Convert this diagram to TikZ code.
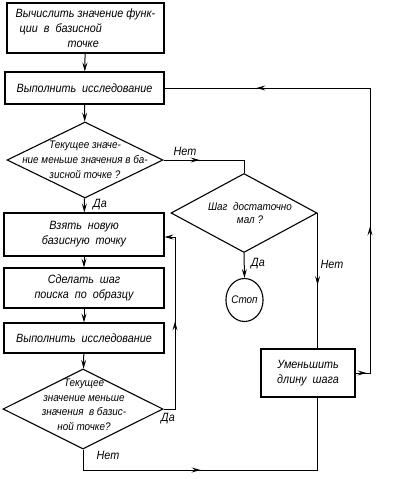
\documentclass[tikz,border=0pt]{standalone}
\usepackage{fontspec}
\setmainfont{Liberation Sans}[FakeStretch=0.9]
\usetikzlibrary{arrows.meta,shapes.geometric,decorations.markings,calc}
\begin{document}
\begin{tikzpicture}[x=1pt,y=-1pt,
  line width=1pt,
  >={Stealth[length=9pt,width=5pt,inset=3.5pt]},
  box/.style={draw,rectangle,line width=1.1pt,inner sep=0pt,align=center,
    font=\itshape\fontsize{12}{15}\selectfont},
  dia/.style={draw,diamond,line width=1.1pt,inner sep=0pt},
  diatext/.style={align=center,inner sep=0pt,font=\itshape\fontsize{11}{15}\selectfont},
  lbl/.style={inner sep=0pt,font=\itshape\fontsize{12}{13}\selectfont},
  arrowat/.style={postaction={decorate,decoration={markings,
    mark=at position #1 with {\arrow{>}}}}}]
\useasboundingbox (0,0) rectangle (410,479);

% boxes
\node[box,minimum width=157pt,minimum height=50pt,align=left] (b1) at (85.5,28)
  {Вычислить значение функ-\\\hspace*{4pt}ции\ \ в\ \ базисной\\\hspace*{52pt}точке};
\node[box,minimum width=159pt,minimum height=32pt] (b2) at (84.5,88)
  {Выполнить\ \ исследование};
\node[dia,minimum width=156pt,minimum height=76pt] (d1) at (85,160) {};
\node[diatext] (d1t) at (85,160)
  {Текущее значе-\\ние меньше значения в ба-\\зисной точке ?};
\node[box,minimum width=160pt,minimum height=43pt] (b3) at (84,234.5)
  {Взять\ \ новую\\базисную\ \ точку};
\node[box,minimum width=160pt,minimum height=40pt] (b4) at (84,288)
  {Сделать\ \ шаг\\поиска\ \ по\ \ образцу};
\node[box,minimum width=160pt,minimum height=30pt] (b5) at (84,338)
  {Выполнить\ \ исследование};
\node[dia,minimum width=160pt,minimum height=80pt] (d3) at (83,409) {};
\node[diatext,font=\itshape\fontsize{11}{14.5}\selectfont] (d3t) at (84,405)
  {Текущее\\значение меньше\\значения\ \ в базис-\\ной точке?};
\node[dia,minimum width=146pt,minimum height=79pt] (d2) at (244,213) {};
\node[diatext,font=\itshape\fontsize{11}{13}\selectfont] (d2t) at (250,213.5)
  {Шаг\ \ достаточно\\мал ?};
\node[draw,ellipse,line width=1.1pt,inner sep=0pt,minimum width=35pt,minimum height=43pt,
  font=\itshape\fontsize{11}{12}\selectfont] (stop) at (244.5,300) {Стоп};
\node[box,minimum width=94pt,minimum height=48pt] (b6) at (308,373)
  {Уменьшить\\длину\ \ шага};

% helper coordinates
\coordinate (c1) at (370,373);
\coordinate (c2) at (370,88);
\coordinate (c3) at (175,409);
\coordinate (c4) at (175,237);
\coordinate (c5) at (83,470);
\coordinate (c6) at (317,470);

% connectors
\draw[->] (b1) -- (b2);
\draw[->] (b2) -- (d1);
\draw[->] (d1) -- (b3);
\draw[->] (b3) -- (b4);
\draw[->] (b4) -- (b5);
\draw[->] (b5) -- (d3);
\draw[arrowat=36pt] (d1.east) -- (d1.east -| d2.north) -- (d2.north);
\draw[->] (d2.south) -- (stop.north);
\draw[arrowat=72pt] (d2.east) -- (d2.east |- b6.north);
\draw[arrowat=11pt,arrowat=161pt,arrowat=413pt] (b6.east) -- (c1) -- (c2) -- (b2.east);
\draw[->,arrowat=99pt] (d3.east) -- (c3) -- (c4) -- (b3.east |- c4);
\draw[arrowat=138pt] (d3.south) -- (c5) -- (c6) -- (c6 |- b6.south);

% labels
\node[lbl] (l1) at (185,151) {Нет};
\node[lbl] (l2) at (100,205) {Да};
\node[lbl] (l3) at (258,264) {Да};
\node[lbl] (l4) at (332,264) {Нет};
\node[lbl] (l5) at (168,419) {Да};
\node[lbl] (l6) at (108,455) {Нет};
\end{tikzpicture}
\end{document}
